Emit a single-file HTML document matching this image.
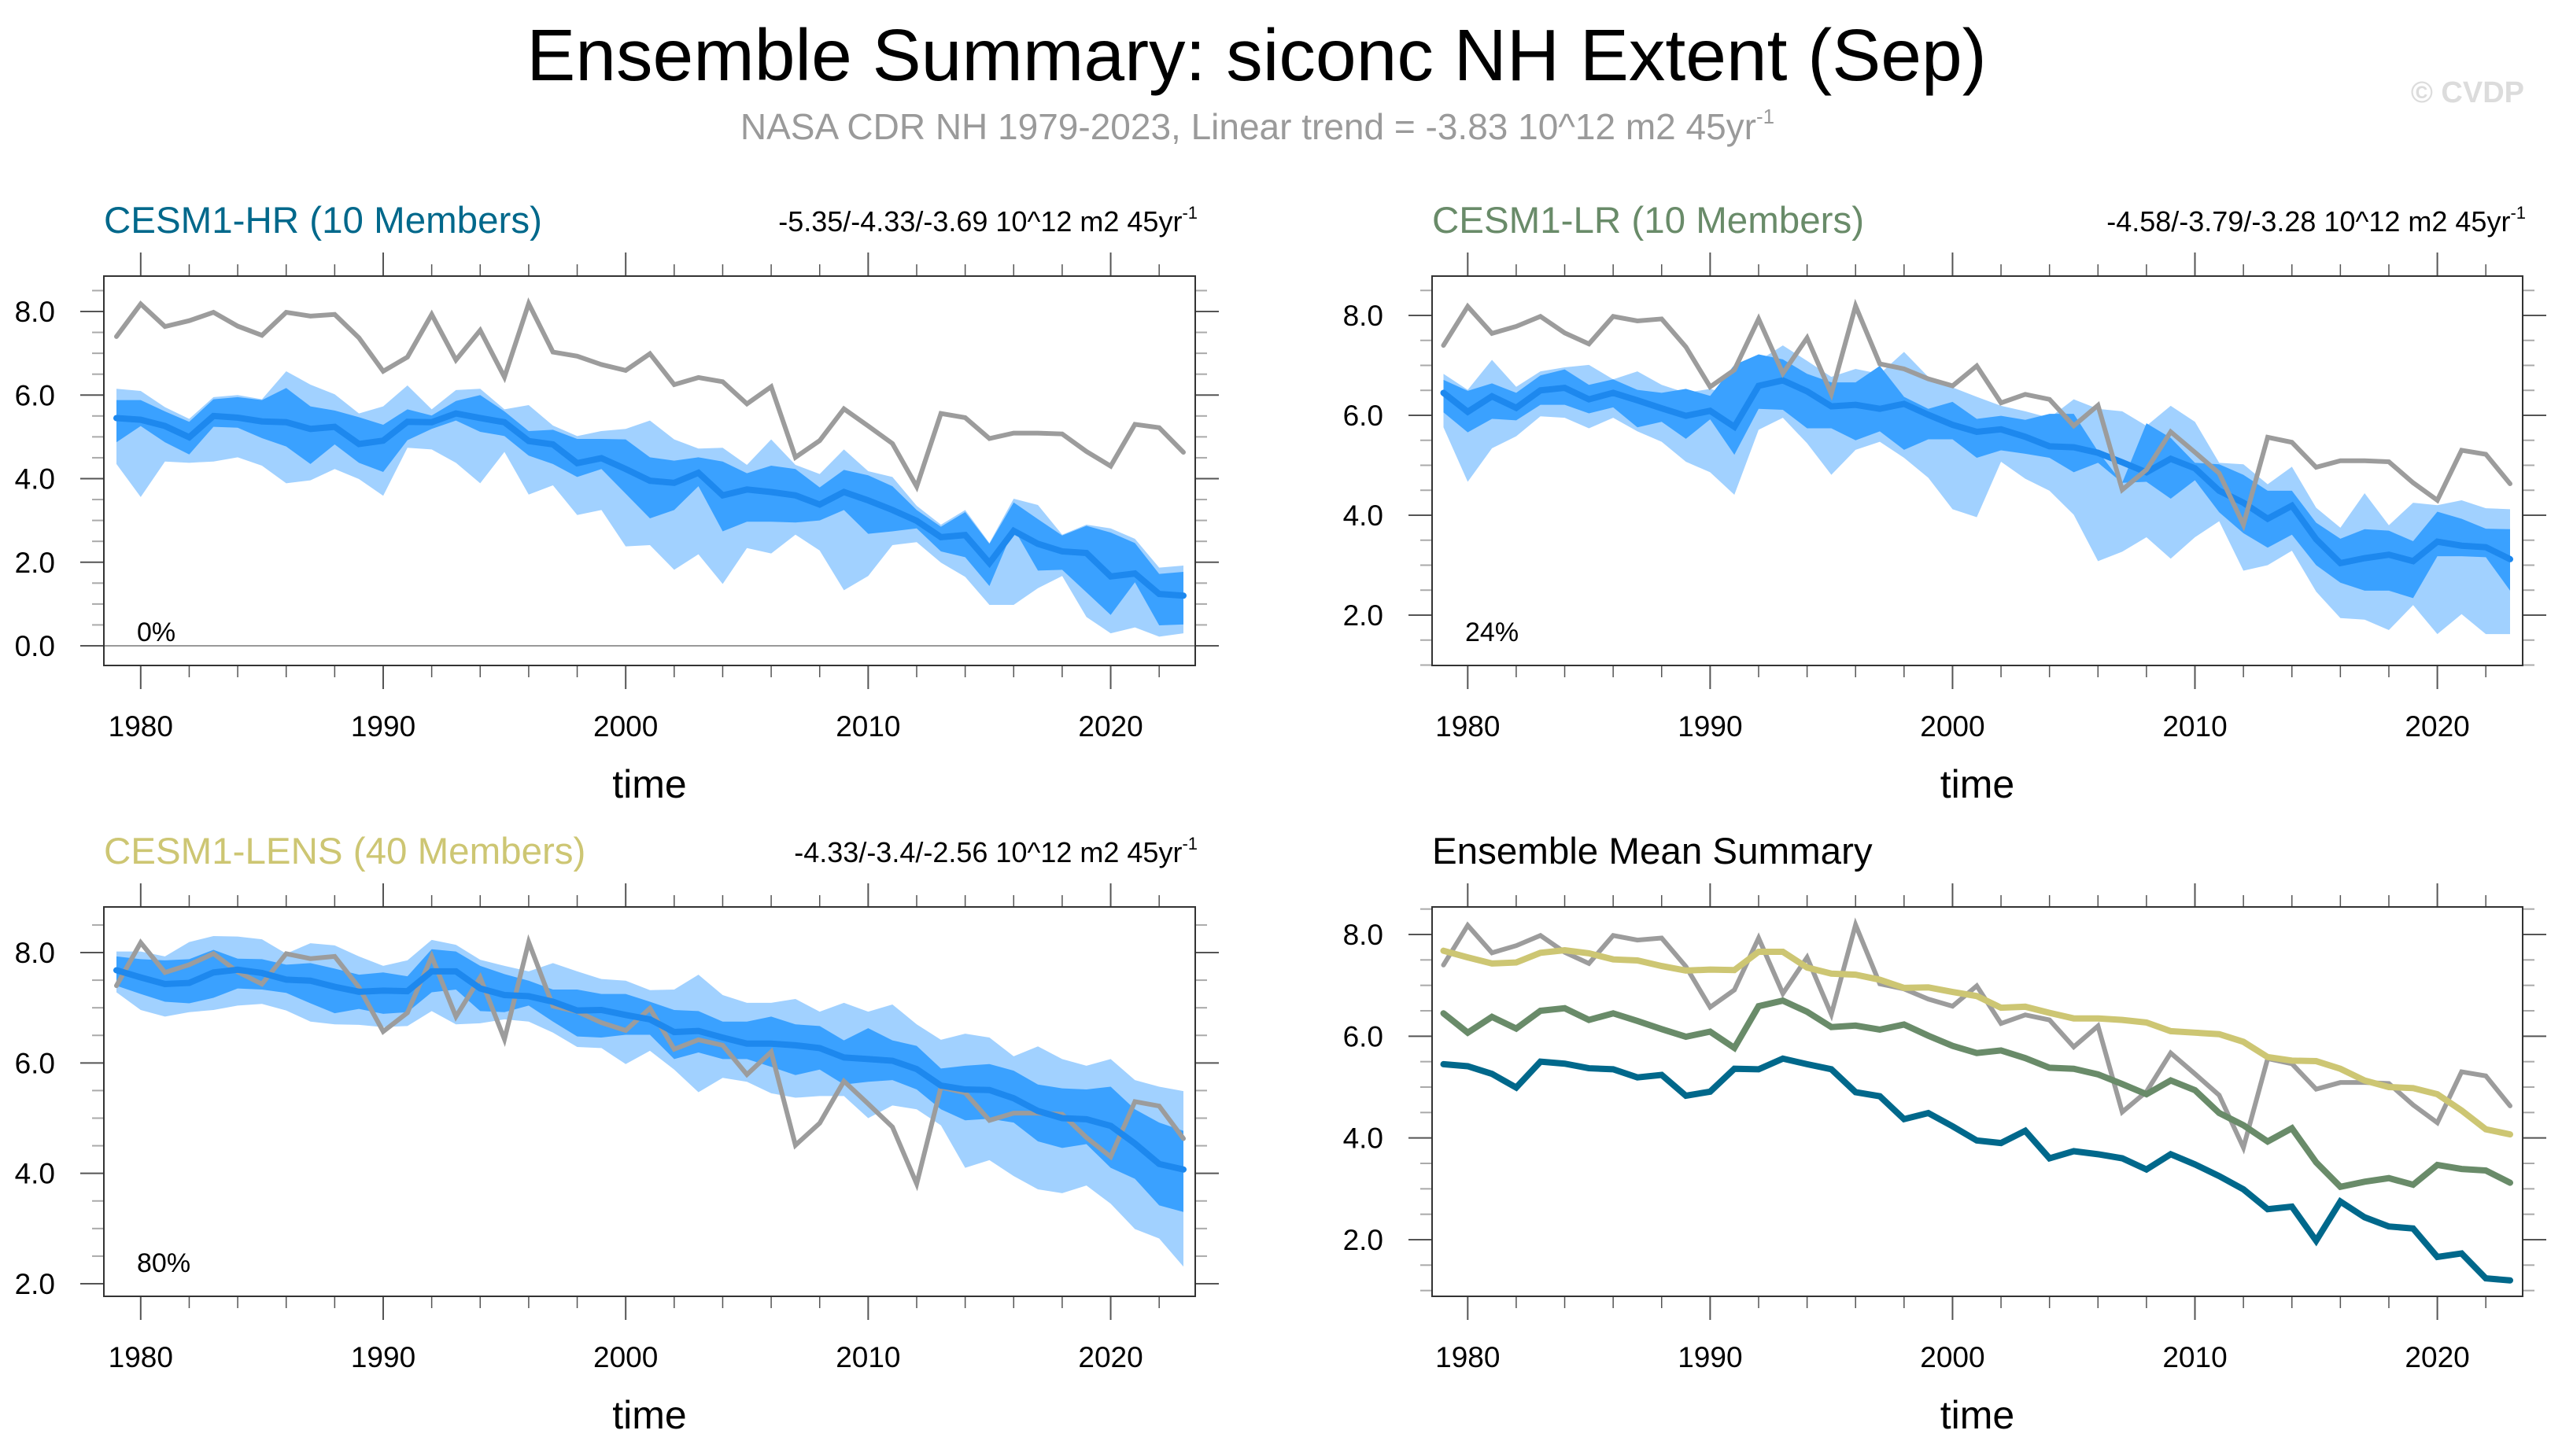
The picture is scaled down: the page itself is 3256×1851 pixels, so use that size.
<!DOCTYPE html>
<html><head><meta charset="utf-8"><title>Ensemble Summary: siconc NH Extent (Sep)</title>
<style>
html,body{margin:0;padding:0;background:#fff;}
svg{display:block;font-family:"Liberation Sans",Arial,sans-serif;}
</style></head>
<body>
<svg id="chart" width="3256" height="1851" viewBox="0 0 3256 1851" xmlns="http://www.w3.org/2000/svg">
<rect width="3256" height="1851" fill="#fff"/>
<text x="1597" y="102" font-size="93" text-anchor="middle" fill="#000">Ensemble Summary: siconc NH Extent (Sep)</text>
<text x="1598" y="177" font-size="46" text-anchor="middle" fill="#9a9a9a">NASA CDR NH 1979-2023, Linear trend = -3.83 10^12 m2 45yr<tspan dy="-20" font-size="26">-1</tspan></text>
<text x="3208" y="130" font-size="38" font-weight="bold" text-anchor="end" fill="#dcdcdc">© CVDP</text>

<text x="132" y="296" font-size="47.5" fill="#00688b">CESM1-HR (10 Members)</text>
<text x="1522" y="294" font-size="36" text-anchor="end" fill="#000">-5.35/-4.33/-3.69 10^12 m2 45yr<tspan dy="-16" font-size="22">-1</tspan></text>
<text x="1820" y="296" font-size="47.5" fill="#698b69">CESM1-LR (10 Members)</text>
<text x="3210" y="294" font-size="36" text-anchor="end" fill="#000">-4.58/-3.79/-3.28 10^12 m2 45yr<tspan dy="-16" font-size="22">-1</tspan></text>
<text x="132" y="1098" font-size="47.5" fill="#cdc673">CESM1-LENS (40 Members)</text>
<text x="1522" y="1096" font-size="36" text-anchor="end" fill="#000">-4.33/-3.4/-2.56 10^12 m2 45yr<tspan dy="-16" font-size="22">-1</tspan></text>
<text x="1820" y="1098" font-size="47.5" fill="#000">Ensemble Mean Summary</text>
<g id="panels"></g>
</svg>
<script>
const years = [];
for (let y = 1979; y <= 2023; y++) years.push(y);
const xTickLabels = [1980, 1990, 2000, 2010, 2020];
const obs = [7.40,8.18,7.64,7.78,7.98,7.65,7.43,7.98,7.89,7.93,7.37,6.57,6.91,7.93,6.84,7.55,6.43,8.19,7.03,6.93,6.73,6.59,6.99,6.25,6.42,6.32,5.79,6.20,4.51,4.91,5.67,5.26,4.84,3.81,5.56,5.46,4.96,5.09,5.09,5.07,4.65,4.30,5.30,5.22,4.63];
const hrMean = [5.45,5.41,5.26,4.99,5.50,5.46,5.37,5.35,5.19,5.24,4.83,4.91,5.36,5.35,5.56,5.45,5.35,4.90,4.82,4.37,4.49,4.23,3.95,3.90,4.14,3.60,3.74,3.68,3.60,3.38,3.68,3.48,3.25,2.99,2.60,2.65,1.98,2.75,2.44,2.26,2.22,1.66,1.73,1.24,1.20];
const hrLightHi = [6.15,6.10,5.71,5.43,5.95,6.00,5.90,6.57,6.25,6.02,5.56,5.73,6.23,5.66,6.12,6.15,5.66,5.76,5.27,5.02,5.14,5.19,5.39,4.94,4.72,4.74,4.33,4.94,4.33,4.11,4.70,4.18,4.04,3.35,2.90,3.25,2.46,3.52,3.37,2.66,2.90,2.81,2.56,1.87,1.92];
const hrDarkHi = [5.88,5.88,5.61,5.36,5.90,5.95,5.88,6.17,5.73,5.63,5.47,5.29,5.66,5.51,5.86,6.00,5.61,5.14,5.17,4.95,4.95,4.94,4.51,4.43,4.51,4.41,4.13,4.31,4.23,3.79,4.21,4.08,3.82,3.25,2.85,3.20,2.44,3.43,3.03,2.64,2.87,2.71,2.46,1.72,1.77];
const hrDarkLo = [4.87,5.26,4.87,4.58,5.24,5.22,4.97,4.77,4.35,4.82,4.38,4.16,4.92,5.19,5.39,5.12,5.02,4.55,4.35,4.04,4.23,3.64,3.05,3.25,3.82,2.74,2.97,2.97,2.95,3.00,3.25,2.68,2.74,2.81,2.26,2.12,1.43,2.81,1.80,1.82,1.28,0.74,1.52,0.49,0.51];
const hrLightLo = [4.35,3.56,4.41,4.38,4.41,4.51,4.31,3.89,3.96,4.23,3.99,3.59,4.74,4.70,4.38,3.89,4.64,3.62,3.84,3.13,3.25,2.38,2.41,1.82,2.19,1.48,2.34,2.21,2.66,2.28,1.33,1.67,2.41,2.48,1.99,1.65,0.98,0.98,1.38,1.67,0.69,0.30,0.44,0.22,0.30];
const lrMean = [6.45,6.07,6.38,6.15,6.50,6.55,6.32,6.45,6.30,6.14,5.99,6.09,5.77,6.59,6.70,6.48,6.18,6.21,6.13,6.23,6.01,5.81,5.67,5.72,5.57,5.38,5.36,5.25,5.06,4.86,5.13,4.94,4.49,4.25,3.93,4.19,3.52,3.04,3.14,3.21,3.08,3.47,3.39,3.36,3.12];
const lrLightHi = [6.83,6.51,7.11,6.57,6.88,6.96,7.01,6.72,6.88,6.61,6.45,6.53,6.40,7.09,7.40,7.09,6.77,6.93,6.83,7.27,6.77,6.56,6.37,6.19,6.08,5.95,6.32,6.13,6.08,5.79,6.19,5.87,5.05,5.02,4.62,4.97,4.15,3.75,4.44,3.80,4.25,4.20,4.30,4.14,4.12];
const lrDarkHi = [6.71,6.49,6.64,6.45,6.80,6.92,6.61,6.72,6.51,6.45,6.53,6.39,7.01,7.22,7.12,6.83,6.66,6.66,6.99,6.37,6.13,6.27,5.93,5.99,5.91,6.03,6.03,5.28,4.65,5.84,5.55,5.05,5.02,4.81,4.49,4.49,3.85,3.53,3.72,3.69,3.48,4.07,3.93,3.73,3.72];
const lrDarkLo = [6.06,5.66,5.93,5.90,6.21,6.21,6.04,6.16,5.76,5.87,5.53,5.92,5.21,6.13,6.11,5.74,5.74,5.50,5.68,5.31,5.52,5.52,5.15,5.30,5.23,5.15,4.86,5.05,4.65,4.67,4.33,4.70,4.06,3.64,3.35,3.61,3.00,2.65,2.49,2.49,2.34,3.18,3.18,3.16,2.49];
const lrLightLo = [5.76,4.67,5.34,5.58,5.98,5.95,5.74,5.95,5.68,5.47,5.07,4.86,4.41,5.71,5.95,5.44,4.81,5.31,5.47,5.15,4.75,4.12,3.96,5.07,4.73,4.49,4.01,3.08,3.27,3.56,3.13,3.56,3.88,2.89,3.00,3.29,2.47,1.94,1.91,1.70,2.20,1.62,2.02,1.62,1.62];
const lensMean = [7.68,7.55,7.43,7.45,7.64,7.69,7.63,7.51,7.49,7.38,7.29,7.31,7.30,7.66,7.66,7.35,7.23,7.21,7.11,6.95,6.96,6.87,6.79,6.56,6.58,6.46,6.35,6.35,6.32,6.27,6.10,6.07,6.04,5.89,5.59,5.52,5.51,5.36,5.13,5.00,4.98,4.86,4.54,4.17,4.07];
const lensLightHi = [8.02,8.02,7.93,8.19,8.30,8.29,8.24,7.98,8.17,8.13,7.93,7.76,7.86,8.23,8.14,7.87,7.76,7.66,7.81,7.66,7.52,7.49,7.32,7.33,7.60,7.23,7.09,7.09,7.16,6.93,7.09,6.93,7.06,6.70,6.42,6.53,6.46,6.12,6.30,6.07,5.95,6.07,5.69,5.57,5.49];
const lensDarkHi = [7.93,7.88,7.86,7.88,8.05,7.89,7.88,7.78,7.81,7.71,7.60,7.64,7.57,8.06,8.02,7.76,7.61,7.49,7.33,7.33,7.25,7.25,7.11,6.96,6.94,6.75,6.75,6.84,6.70,6.67,6.41,6.63,6.41,6.31,5.90,5.95,5.98,5.86,5.61,5.54,5.52,5.57,5.16,4.92,4.77];
const lensDarkLo = [7.40,7.25,7.11,7.08,7.18,7.35,7.33,7.27,7.08,6.90,6.98,6.89,6.92,7.28,7.33,6.94,6.92,7.04,6.75,6.48,6.46,6.51,6.51,6.07,6.19,6.07,6.07,5.93,5.78,5.88,5.61,5.66,5.69,5.52,5.16,4.96,4.99,4.92,4.58,4.46,4.53,4.10,3.90,3.42,3.30];
const lensLightLo = [7.28,6.96,6.84,6.92,6.96,7.04,7.07,6.95,6.75,6.70,6.69,6.65,6.67,6.94,6.70,6.72,6.79,6.75,6.55,6.29,6.27,5.98,6.22,5.88,5.47,5.73,5.66,5.45,5.37,5.40,5.40,5.00,5.23,5.16,4.87,4.10,4.24,3.95,3.71,3.64,3.78,3.45,2.99,2.82,2.31];
const hrYTicks = ["0.0","2.0","4.0","6.0","8.0"];
const otherYTicks = ["2.0","4.0","6.0","8.0"];
const percentLabels = ["0%","24%","80%"];

const NS = "http://www.w3.org/2000/svg";
const root = document.getElementById("panels");
function mk(tag, attrs, parent) {
  const e = document.createElementNS(NS, tag);
  for (const k in attrs) e.setAttribute(k, attrs[k]);
  (parent || root).appendChild(e);
  return e;
}
function makePanel(p) {
  const g = mk("g", {});
  
  
  const xs = v => p.x0 + (v - 1979) * (p.x1 - p.x0) / 44;
  const ys = v => p.yA + (v - p.vA) * (p.yB - p.yA) / (p.vB - p.vA);
  const valAt = y => p.vA + (y - p.yA) * (p.vB - p.vA) / (p.yB - p.yA);
  const vTop = valAt(p.top), vBot = valAt(p.bottom);
  const tickCol = "#555";
  for (let yr = 1980; yr <= 2022; yr += 2) {
    const major = yr % 10 === 0;
    const len = major ? 30 : 15;
    const X = xs(yr);
    const t1 = mk("line", {x1: X, x2: X, y1: p.top - len, y2: p.top, stroke: tickCol, "stroke-width": major ? 2 : 1.5}, g);
    
    
    const t2 = mk("line", {x1: X, x2: X, y1: p.bottom, y2: p.bottom + len, stroke: tickCol, "stroke-width": major ? 2 : 1.5}, g);
    
    
  }
  xTickLabels.forEach(yr => {
    const t = mk("text", {x: xs(yr), y: p.bottom + 90, "font-size": 37, "text-anchor": "middle", fill: "#000"}, g);
    t.textContent = yr;
    
    
  });
  for (let v = Math.ceil(vBot * 2) / 2; v <= vTop + 1e-9; v += 0.5) {
    const major = Math.abs(v % 2) < 1e-9;
    const len = major ? 30 : 15;
    const Y = ys(v);
    const a = mk("line", {x1: p.left - len, x2: p.left, y1: Y, y2: Y, stroke: major ? tickCol : "#aaa", "stroke-width": 2}, g);
    
    
    const b = mk("line", {x1: p.right, x2: p.right + len, y1: Y, y2: Y, stroke: major ? tickCol : "#aaa", "stroke-width": 2}, g);
    
    
  }
  p.yTicks.forEach(s => {
    const t = mk("text", {x: p.left - 62, y: ys(parseFloat(s)) + 13, "font-size": 37, "text-anchor": "end", fill: "#000"}, g);
    t.textContent = s;
    
    
  });
  const tl = mk("text", {x: (p.left + p.right) / 2, y: p.bottom + 168, "font-size": 50, "text-anchor": "middle", fill: "#000"}, g);
  tl.textContent = "time";
  
  
  if (p.zeroLine) {
    const zl = mk("line", {x1: p.left, x2: p.right, y1: ys(0), y2: ys(0), stroke: "#999", "stroke-width": 2}, g);
    
    
  }
  const band = (hi, lo, col, nm) => {
    let d = "M" + years.map((yr, i) => xs(yr) + "," + ys(hi[i])).join("L");
    d += "L" + years.slice().reverse().map((yr, j) => xs(yr) + "," + ys(lo[44 - j])).join("L") + "Z";
    const e = mk("path", {d: d, fill: col, stroke: "none"}, g);
    
    
  };
  const line = (arr, col, w, nm) => {
    const e = mk("polyline", {points: years.map((yr, i) => xs(yr) + "," + ys(arr[i])).join(" "), fill: "none", stroke: col, "stroke-width": w, "stroke-linejoin": "miter", "stroke-linecap": "round"}, g);
    
    
  };
  if (p.bands) {
    band(p.bands[0], p.bands[3], "#a1d1ff", "outer-spread-band");
    band(p.bands[1], p.bands[2], "#3aa1ff", "inner-spread-band");
  }
  p.lines.forEach(l => line(l[0], l[1], l[2], l[3]));
  if (p.pct) {
    const t = mk("text", {x: p.left + 42, y: p.bottom - 31, "font-size": 34, fill: "#000"}, g);
    t.textContent = p.pct;
    
    
  }
  const fr = mk("rect", {x: p.left, y: p.top, width: p.right - p.left, height: p.bottom - p.top, fill: "none", stroke: "#333", "stroke-width": 2}, g);
  
  
}
const L = {left: 132, right: 1519, x0: 148, x1: 1504};
const R = {left: 1820, right: 3206, x0: 1834.5, x1: 3190};
makePanel(Object.assign({}, L, {name: "hr-panel", top: 351, bottom: 846, yA: 821, vA: 0, yB: 396, vB: 8, yTicks: hrYTicks, zeroLine: true, pct: percentLabels[0],
  bands: [hrLightHi, hrDarkHi, hrDarkLo, hrLightLo],
  lines: [[obs, "#9c9c9c", 6, "observed-line"], [hrMean, "#1d88ee", 8, "hr-mean-line"]]}));
makePanel(Object.assign({}, R, {name: "lr-panel", top: 351, bottom: 846, yA: 782, vA: 2, yB: 401, vB: 8, yTicks: otherYTicks, pct: percentLabels[1],
  bands: [lrLightHi, lrDarkHi, lrDarkLo, lrLightLo],
  lines: [[lrMean, "#1d88ee", 8, "lr-mean-line"], [obs, "#9c9c9c", 6, "observed-line"]]}));
makePanel(Object.assign({}, L, {name: "lens-panel", top: 1153, bottom: 1648, yA: 1632, vA: 2, yB: 1211, vB: 8, yTicks: otherYTicks, pct: percentLabels[2],
  bands: [lensLightHi, lensDarkHi, lensDarkLo, lensLightLo],
  lines: [[obs, "#9c9c9c", 6, "observed-line"], [lensMean, "#1d88ee", 8, "lens-mean-line"]]}));
makePanel(Object.assign({}, R, {name: "summary-panel", top: 1153, bottom: 1648, yA: 1576, vA: 2, yB: 1188, vB: 8, yTicks: otherYTicks,
  lines: [[obs, "#9c9c9c", 6, "observed-line"], [lensMean, "#cdc673", 8, "lens-mean-line"], [lrMean, "#698b69", 8, "lr-mean-line"], [hrMean, "#00688b", 8, "hr-mean-line"]]}));
</script>
</body></html>
